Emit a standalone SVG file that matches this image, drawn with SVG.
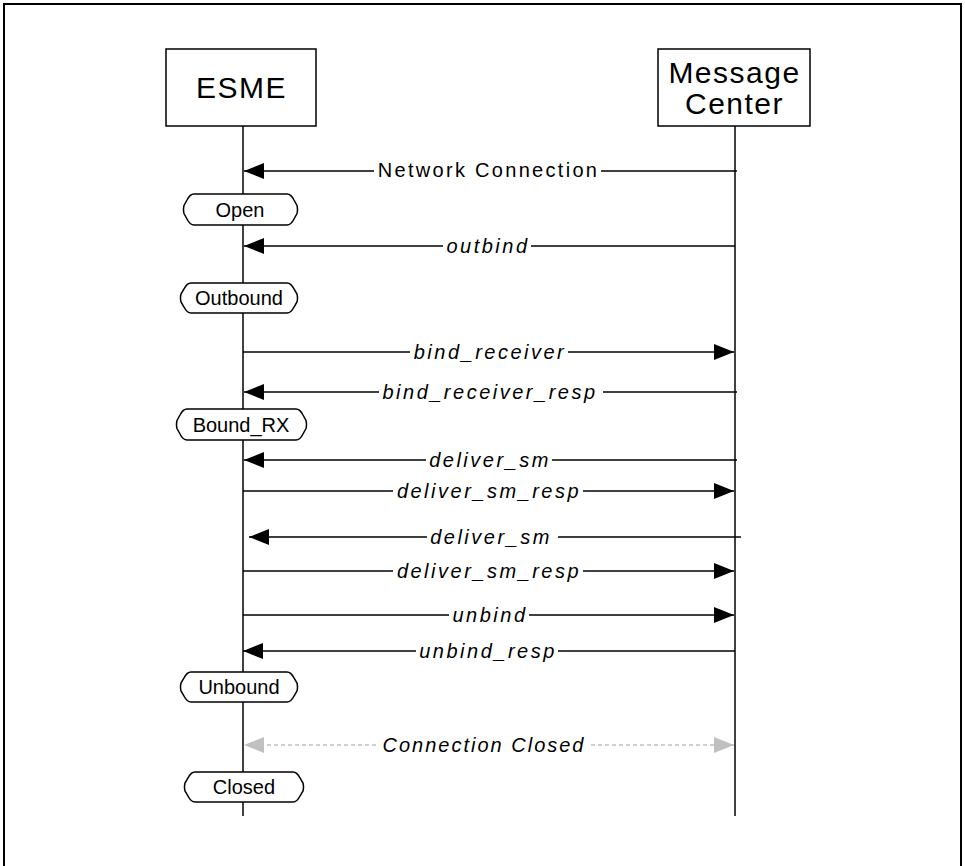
<svg xmlns="http://www.w3.org/2000/svg" width="965" height="866" viewBox="0 0 965 866">
<style>
.frame{fill:none;stroke:#000;stroke-width:2}
.box{fill:#fff;stroke:#000;stroke-width:1.5}
.life{stroke:#000;stroke-width:1.5}
.msg{stroke:#000;stroke-width:1.5;fill:none}
.dash{stroke:#c0c0c0;stroke-width:1.5;stroke-dasharray:4 3;fill:none}
.state{fill:#fff;stroke:#000;stroke-width:1.5}
.title{font-family:"Liberation Sans",Arial,sans-serif;font-size:30px;letter-spacing:1.5px;text-anchor:middle;fill:#000}
.lbl{font-family:"Liberation Sans",Arial,sans-serif;font-size:20px;letter-spacing:2.5px;text-anchor:middle;fill:#000;dominant-baseline:central}
.it{font-style:italic}
.st{font-family:"Liberation Sans",Arial,sans-serif;font-size:20px;text-anchor:middle;fill:#000;dominant-baseline:central}
</style>
<defs>
<marker id="ah" viewBox="0 0 20 16" refX="20" refY="8" markerWidth="20" markerHeight="16" markerUnits="userSpaceOnUse" orient="auto">
<path d="M0,0 L20,8 L0,16 Z" fill="#000"/>
</marker>
<marker id="ahg" viewBox="0 0 20 16" refX="20" refY="8" markerWidth="20" markerHeight="16" markerUnits="userSpaceOnUse" orient="auto">
<path d="M0,0 L20,8 L0,16 Z" fill="#c0c0c0"/>
</marker>
</defs>
<rect width="965" height="866" fill="#fff"/>
<path class="frame" d="M4,870 V4 H961 V870"/>

<g id="esme">
<rect class="box" x="166" y="49" width="150" height="77"/>
<text class="title" x="241.5" y="98">ESME</text>
</g>
<g id="mc">
<rect class="box" x="658" y="49" width="152" height="77"/>
<text class="title" x="734.5" y="83">Message</text>
<text class="title" x="734.5" y="114">Center</text>
</g>

<g id="lifelines">
<line class="life" x1="243" y1="126" x2="243" y2="816"/>
<line class="life" x1="735" y1="126" x2="735" y2="816"/>
</g>

<g id="connectors">
<path class="msg" d="M737,171 H601"/>
<path class="msg" d="M374,171 H244" marker-end="url(#ah)"/>
<text class="lbl" style="letter-spacing:2.3px" x="488.5" y="170">Network Connection</text>

<path class="msg" d="M735,246 H531"/>
<path class="msg" d="M443,246 H244" marker-end="url(#ah)"/>
<text class="lbl it" x="488" y="246">outbind</text>

<path class="msg" d="M243,352 H410"/>
<path class="msg" d="M568,352 H734" marker-end="url(#ah)"/>
<text class="lbl it" x="490" y="352">bind_receiver</text>

<path class="msg" d="M737,392 H603"/>
<path class="msg" d="M379,392 H244" marker-end="url(#ah)"/>
<text class="lbl it" x="490" y="392">bind_receiver_resp</text>

<path class="msg" d="M737,460 H552"/>
<path class="msg" d="M426,460 H244" marker-end="url(#ah)"/>
<text class="lbl it" x="490" y="460">deliver_sm</text>

<path class="msg" d="M243,491 H393"/>
<path class="msg" d="M583,491 H734" marker-end="url(#ah)"/>
<text class="lbl it" x="489" y="491">deliver_sm_resp</text>

<path class="msg" d="M741,537 H558"/>
<path class="msg" d="M427,537 H249" marker-end="url(#ah)"/>
<text class="lbl it" x="491" y="537">deliver_sm</text>

<path class="msg" d="M243,571 H393"/>
<path class="msg" d="M583,571 H734" marker-end="url(#ah)"/>
<text class="lbl it" x="489" y="571">deliver_sm_resp</text>

<path class="msg" d="M243,615 H449"/>
<path class="msg" d="M529,615 H734" marker-end="url(#ah)"/>
<text class="lbl it" x="490" y="615">unbind</text>

<path class="msg" d="M735,651 H558"/>
<path class="msg" d="M416,651 H243" marker-end="url(#ah)"/>
<text class="lbl it" x="488" y="651">unbind_resp</text>

<path class="dash" d="M376,745 H244" marker-end="url(#ahg)"/>
<path class="dash" d="M591,745 H734" marker-end="url(#ahg)"/>
<text class="lbl it" style="letter-spacing:2px" x="484" y="745">Connection Closed</text>
</g>

<g id="open">
<path class="state" d="M194,194 H287 Q291,194 294,200 L297,205.5 Q298,209.5 297,213.5 L294,219 Q291,225 287,225 H194 Q190,225 187,219 L184,213.5 Q183,209.5 184,205.5 L187,200 Q190,194 194,194 Z"/>
<text class="st" x="240" y="209.5">Open</text>
</g>
<g id="outbound">
<path class="state" d="M191,283 H287 Q291,283 294,289 L297,294 Q298,298 297,302 L294,307 Q291,313 287,313 H191 Q187,313 184,307 L181,302 Q180,298 181,294 L184,289 Q187,283 191,283 Z"/>
<text class="st" x="239" y="298">Outbound</text>
</g>
<g id="boundrx">
<path class="state" d="M187,409 H296 Q300,409 303,415 L306,420.5 Q307,424.5 306,428.5 L303,434 Q300,440 296,440 H187 Q183,440 180,434 L177,428.5 Q176,424.5 177,420.5 L180,415 Q183,409 187,409 Z"/>
<text class="st" x="241" y="424.5">Bound_RX</text>
</g>
<g id="unbound">
<path class="state" d="M191,672 H287 Q291,672 294,678 L297,683 Q298,687 297,691 L294,696 Q291,702 287,702 H191 Q187,702 184,696 L181,691 Q180,687 181,683 L184,678 Q187,672 191,672 Z"/>
<text class="st" x="239" y="687">Unbound</text>
</g>
<g id="closed">
<path class="state" d="M195,772 H293 Q297,772 300,778 L303,783 Q304,787 303,791 L300,796 Q297,802 293,802 H195 Q191,802 188,796 L185,791 Q184,787 185,783 L188,778 Q191,772 195,772 Z"/>
<text class="st" x="244" y="787">Closed</text>
</g>
</svg>
